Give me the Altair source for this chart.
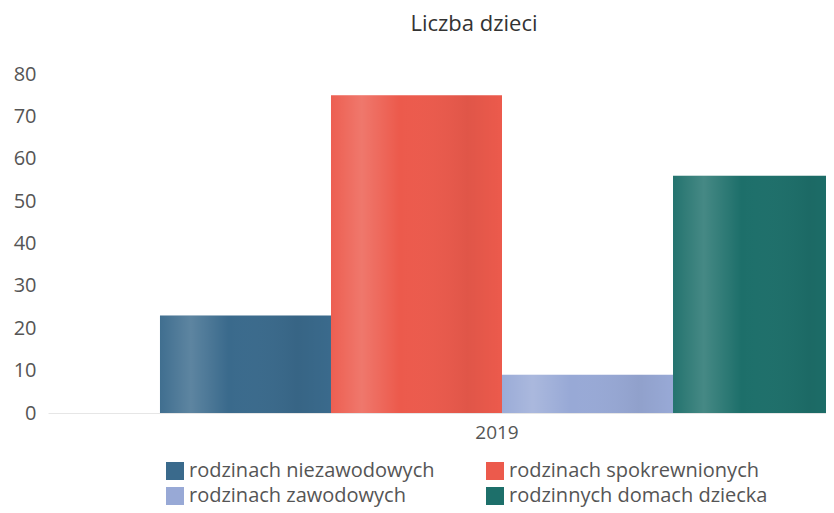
import altair as alt
import pandas as pd

categories = ["2019"]
series = ["rodzinach niezawodowych", "rodzinach spokrewnionych",
          "rodzinach zawodowych", "rodzinnych domach dziecka"]
values = [23, 75, 9, 56]
colors = ["#3a6a8c", "#ec5a4c", "#98a9d6", "#1d6f6a"]

df = pd.DataFrame({
    "rok": [categories[0]] * len(series),
    "seria": series,
    "wartosc": values,
})

FONT = "Open Sans"
TXT = "#555555"

x_enc = alt.X("rok:N", title=None,
              scale=alt.Scale(domain=categories, range=[0, 908],
                              paddingInner=0, paddingOuter=0.1637),
              axis=alt.Axis(labelAngle=0, ticks=False, domain=True,
                            domainColor="#e6e6e6", labelFontSize=19,
                            labelColor=TXT, labelFont=FONT, labelPadding=10,
                            labelOffset=-5))
xo_enc = alt.XOffset("seria:N", sort=series,
                     scale=alt.Scale(domain=series, paddingInner=0, paddingOuter=0))
y_enc = alt.Y("wartosc:Q", title=None,
              scale=alt.Scale(domain=[0, 80], nice=False),
              axis=alt.Axis(values=[0, 10, 20, 30, 40, 50, 60, 70, 80],
                            ticks=False, domain=False, grid=False,
                            labelFontSize=20, labelColor=TXT, labelFont=FONT,
                            labelPadding=12))

bars = alt.Chart(df).mark_bar(clip=True).encode(
    x=x_enc,
    xOffset=xo_enc,
    y=y_enc,
    color=alt.Color("seria:N", sort=series,
                    scale=alt.Scale(domain=series, range=colors),
                    legend=alt.Legend(title=None, orient="none", legendX=117,
                                      legendY=387, columns=2, direction="horizontal",
                                      symbolType="square", symbolSize=324,
                                      symbolStrokeWidth=0,
                                      labelFontSize=20, labelFont=FONT,
                                      labelColor=TXT, labelOffset=4,
                                      columnPadding=50, rowPadding=5,
                                      padding=0, labelLimit=400)),
)

shade = alt.Chart(df).mark_bar(
    clip=True,
    color=alt.Gradient(
        gradient="linear", x1=0, x2=1, y1=0, y2=0,
        stops=[
            alt.GradientStop(offset=0, color="rgba(255,255,255,0.03)"),
            alt.GradientStop(offset=0.18, color="rgba(255,255,255,0.18)"),
            alt.GradientStop(offset=0.4, color="rgba(255,255,255,0.0)"),
            alt.GradientStop(offset=0.8, color="rgba(0,0,0,0.05)"),
            alt.GradientStop(offset=1, color="rgba(0,0,0,0.0)"),
        ],
    ),
).encode(x=x_enc, xOffset=xo_enc, y=y_enc)

chart = alt.layer(bars, shade).properties(
    width=778,
    height=339,
    autosize=alt.AutoSizeParams(type="none"),
    padding={"left": 40, "top": 66, "right": 0, "bottom": 95},
    title=alt.Title("Liczba dzieci", fontSize=22, font=FONT, fontWeight="normal",
                    color="#333333", anchor="middle", dx=37, offset=28),
).configure_view(stroke=None)

chart.save("out.html", embed_options={"renderer": "svg", "actions": False})
